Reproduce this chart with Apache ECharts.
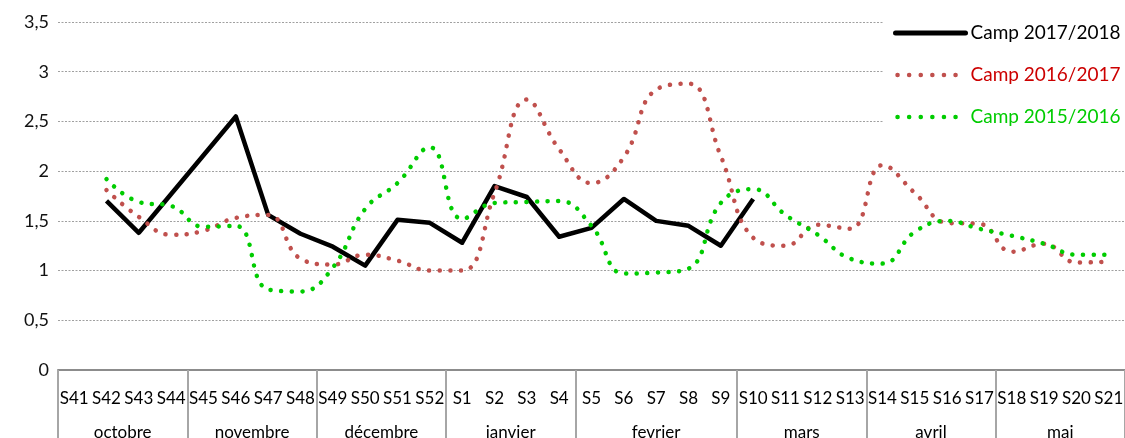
<!DOCTYPE html>
<html>
<head>
<meta charset="utf-8">
<script src="https://cdn.jsdelivr.net/npm/echarts@6/dist/echarts.min.js"></script>
<style>html,body{margin:0;padding:0;background:#fff}#c{width:1125px;height:438px}</style>
</head>
<body>
<div id="c"></div>
<script>
const categories = ['S41','S42','S43','S44','S45','S46','S47','S48','S49','S50','S51','S52',
  'S1','S2','S3','S4','S5','S6','S7','S8','S9','S10','S11','S12','S13','S14','S15','S16','S17','S18','S19','S20','S21'];
const months = ['octobre','novembre','décembre','janvier','fevrier','mars','avril','mai'];
const monthSpans = [4,4,4,4,5,4,4,4];
const yTicks = [0,0.5,1,1.5,2,2.5,3,3.5];

const camp1718 = [null,1.70,1.38,1.77,2.16,2.55,1.56,1.37,1.24,1.05,1.51,1.48,
  1.28,1.85,1.74,1.34,1.43,1.72,1.50,1.45,1.25,1.72,null,null,null,null,null,null,null,null,null,null,null];
const camp1617 = [null,1.81,1.54,1.36,1.40,1.53,1.56,1.12,1.06,1.16,1.10,1.00,
  1.00,1.78,2.72,2.22,1.88,2.14,2.82,2.88,2.15,1.33,1.25,1.46,1.42,2.06,1.78,1.48,1.47,1.19,1.27,1.08,1.09];
const camp1516 = [null,1.92,1.69,1.65,1.44,1.45,0.81,0.79,1.03,1.62,1.88,2.24,
  1.52,1.68,1.69,1.70,1.45,0.97,0.98,1.02,1.68,1.82,1.56,1.36,1.12,1.07,1.39,1.50,1.42,1.35,1.27,1.16,1.16];

const seriesNames = ['Camp 2017/2018','Camp 2016/2017','Camp 2015/2016'];

// month boundaries and centers on a 0..N scale
const bounds = [0];
monthSpans.forEach(s => bounds.push(bounds[bounds.length-1] + s));
const centers = [];
const centerName = {};
monthSpans.forEach((s,i) => { const c = bounds[i] + s/2; centers.push(c); centerName[c] = months[i]; });

const FONT = 'Lato';
const DOTS = [0.1, 10.5];
const chart = echarts.init(document.getElementById('c'));
chart.setOption({
  animation: false,
  textStyle: {fontFamily: FONT},
  grid: {left: 58, right: 0, top: 22, bottom: 68, containLabel: false, outerBoundsMode: 'none'},
  legend: {
    orient: 'vertical',
    left: 883, top: 13,
    padding: [10, 5, 10, 10],
    backgroundColor: '#ffffff',
    itemWidth: 70, itemHeight: 14, itemGap: 22,
    itemStyle: {opacity: 0},
    textStyle: {fontFamily: FONT, fontSize: 19, lineHeight: 20},
    data: [
      {name: seriesNames[0], textStyle: {color: '#000000'},
        lineStyle: {color: '#000', width: 5, type: 'solid', cap: 'round'}},
      {name: seriesNames[1], textStyle: {color: '#CC0000'},
        lineStyle: {color: '#C0504D', width: 4.5, type: [0.1, 11.5], cap: 'round', dashOffset: -2}},
      {name: seriesNames[2], textStyle: {color: '#00CC00'},
        lineStyle: {color: '#00CC00', width: 4.5, type: [0.1, 11.5], cap: 'round', dashOffset: -2}}
    ]
  },
  xAxis: [
    {
      type: 'category', data: categories, boundaryGap: true,
      axisLine: {show: true, lineStyle: {color: '#8c8c8c', width: 2}},
      axisTick: {show: false},
      axisLabel: {interval: 0, fontFamily: FONT, fontSize: 17, color: '#000', margin: 20}
    },
    {
      type: 'value', min: 0, max: categories.length, position: 'bottom',
      axisLine: {show: false},
      splitLine: {show: false},
      axisTick: {show: true, customValues: bounds, length: 68, lineStyle: {color: '#a6a6a6', width: 2}},
      axisLabel: {
        customValues: centers, fontFamily: FONT, fontSize: 17, color: '#000', margin: 54,
        formatter: v => centerName[v] || ''
      }
    }
  ],
  yAxis: {
    type: 'value', min: yTicks[0], max: yTicks[yTicks.length-1], interval: 0.5,
    axisLine: {show: false}, axisTick: {show: false},
    axisLabel: {fontFamily: FONT, fontSize: 18, color: '#111', margin: 9,
      formatter: v => String(v).replace('.', ',')},
    splitLine: {show: true, lineStyle: {color: '#a0a0a0', width: 1, type: [2, 1.5]}}
  },
  series: [
    {
      name: seriesNames[0], type: 'line', data: camp1718, xAxisIndex: 0,
      showSymbol: false, symbol: 'none', connectNulls: false,
      lineStyle: {color: '#000', width: 4.5, join: 'round'},
      itemStyle: {color: '#000'}
    },
    {
      name: seriesNames[1], type: 'line', data: camp1617, xAxisIndex: 0,
      showSymbol: false, symbol: 'none', smooth: 0.45,
      lineStyle: {color: '#C0504D', width: 4.5, type: DOTS, cap: 'round'},
      itemStyle: {color: '#C0504D'}
    },
    {
      name: seriesNames[2], type: 'line', data: camp1516, xAxisIndex: 0,
      showSymbol: false, symbol: 'none', smooth: 0.45,
      lineStyle: {color: '#00CC00', width: 4.5, type: DOTS, cap: 'round'},
      itemStyle: {color: '#00CC00'}
    }
  ]
});
</script>
</body>
</html>
